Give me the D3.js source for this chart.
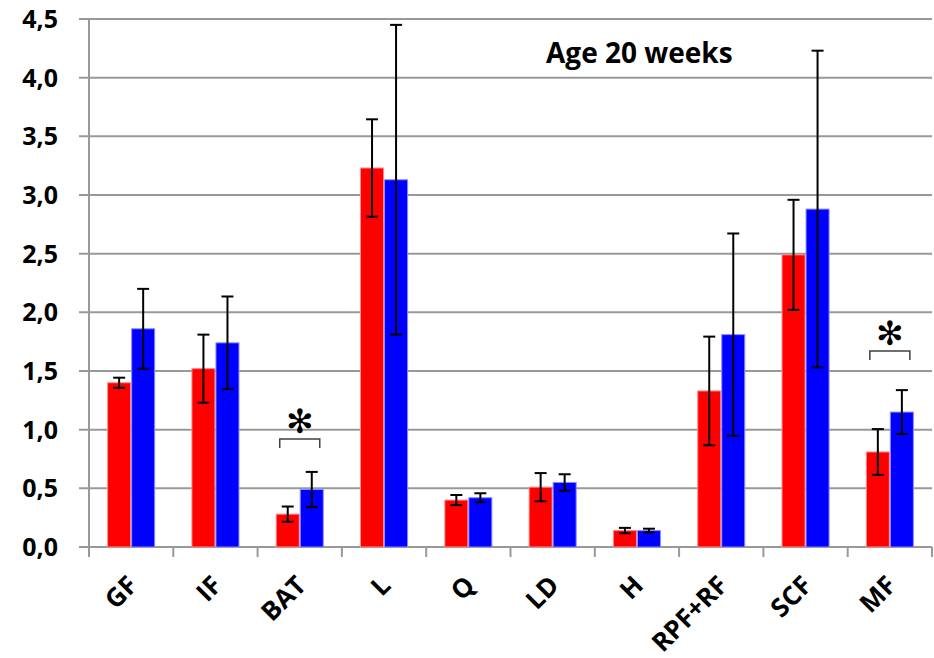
<!DOCTYPE html>
<html>
<head>
<meta charset="utf-8">
<script src="https://cdn.jsdelivr.net/npm/d3@7"></script>
<style>
  html, body { margin: 0; padding: 0; background: #fff; }
  svg { display: block; }
  text { font-family: "Open Sans", Lato, sans-serif; font-weight: 700; fill: #000; }
</style>
</head>
<body>
<svg id="chart" width="934" height="658"></svg>
<script>
// Fat depot / organ weights at age 20 weeks, two groups (red, blue), mean ± error
const categories = ["GF", "IF", "BAT", "L", "Q", "LD", "H", "RPF+RF", "SCF", "MF"];
const redValues  = [1.40, 1.52, 0.28, 3.23, 0.40, 0.51, 0.14, 1.33, 2.49, 0.81];
const redErrors  = [0.043, 0.29, 0.065, 0.415, 0.043, 0.12, 0.023, 0.463, 0.469, 0.195];
const blueValues = [1.86, 1.74, 0.49, 3.13, 0.42, 0.55, 0.14, 1.81, 2.88, 1.15];
const blueErrors = [0.34, 0.395, 0.15, 1.32, 0.038, 0.07, 0.016, 0.862, 1.35, 0.187];
const yTicks = [0, 0.5, 1.0, 1.5, 2.0, 2.5, 3.0, 3.5, 4.0, 4.5];
// significant differences: category and the level (in y units) of its bracket
const significant = ["BAT", "MF"];
const bracketLevels = [0.92, 1.67];
const title = "Age 20 weeks";

const seriesKeys = ["red", "blue"];
const seriesColor = { red: "#ff0000", blue: "#0000ff" };
const seriesEdge = { red: "#ff8c8c", blue: "#8c8cff" };

const rows = categories.map((c, i) => ({
  cat: c,
  red: { v: redValues[i], e: redErrors[i] },
  blue: { v: blueValues[i], e: blueErrors[i] }
}));

const svg = d3.select("#chart");
const plotLeft = 89, plotRight = 932, plotTop = 19, plotBottom = 547;

const y = d3.scaleLinear().domain([0, 4.5]).range([plotBottom, plotTop]);
const x = d3.scaleBand().domain(categories).range([plotLeft, plotRight])
  .paddingInner(0.43).paddingOuter(0.215);
const xs = d3.scaleBand().domain(seriesKeys).range([0, x.bandwidth()]);
const step = x.step();

// horizontal gridlines, extended left as tick marks
svg.append("g").selectAll("line").data(yTicks).join("line")
  .attr("x1", plotLeft - 10).attr("x2", plotRight)
  .attr("y1", d => y(d)).attr("y2", d => y(d))
  .attr("stroke", "#999").attr("stroke-width", 2);

// y tick labels
const fmt = d => d3.format(".1f")(d).replace(".", ",");
svg.append("g").selectAll("text").data(yTicks).join("text")
  .attr("x", 58).attr("y", d => y(d))
  .attr("dy", "0.36em")
  .attr("text-anchor", "end")
  .attr("font-size", 25)
  .text(fmt);

// vertical axis line
svg.append("line")
  .attr("x1", plotLeft).attr("x2", plotLeft).attr("y1", plotTop).attr("y2", plotBottom + 10)
  .attr("stroke", "#999").attr("stroke-width", 2);

// category separator ticks below the baseline
const tickPos = d3.range(categories.length + 1).map(i => plotLeft + i * step);
svg.append("g").selectAll("line").data(tickPos).join("line")
  .attr("x1", d => d).attr("x2", d => d)
  .attr("y1", plotBottom).attr("y2", plotBottom + 10)
  .attr("stroke", "#999").attr("stroke-width", 2);

// bars
const groups = svg.append("g").selectAll("g").data(rows).join("g")
  .attr("transform", d => `translate(${x(d.cat)},0)`);

groups.selectAll("rect").data(d => seriesKeys.map(k => ({ k, ...d[k] }))).join("rect")
  .attr("x", d => xs(d.k) + 0.5)
  .attr("width", xs.bandwidth() - 1)
  .attr("y", d => y(d.v))
  .attr("height", d => y(0) - y(d.v))
  .attr("fill", d => seriesColor[d.k])
  .attr("stroke", d => seriesEdge[d.k])
  .attr("stroke-width", 1);

// error bars
const capW = 12;
const err = groups.selectAll("g.err").data(d => seriesKeys.map(k => ({ k, ...d[k] }))).join("g")
  .attr("class", "err")
  .attr("transform", d => `translate(${xs(d.k) + xs.bandwidth() / 2},0)`);
err.append("line")
  .attr("x1", 0).attr("x2", 0)
  .attr("y1", d => y(d.v + d.e)).attr("y2", d => y(d.v - d.e))
  .attr("stroke", "#000").attr("stroke-width", 2);
err.append("line")
  .attr("x1", -capW / 2).attr("x2", capW / 2)
  .attr("y1", d => y(d.v + d.e)).attr("y2", d => y(d.v + d.e))
  .attr("stroke", "#000").attr("stroke-width", 2);
err.append("line")
  .attr("x1", -capW / 2).attr("x2", capW / 2)
  .attr("y1", d => y(d.v - d.e)).attr("y2", d => y(d.v - d.e))
  .attr("stroke", "#000").attr("stroke-width", 2);

// significance brackets with asterisk
significant.forEach((cat, i) => {
  const by = y(bracketLevels[i]);
  const x0 = x(cat) + xs("red") + xs.bandwidth() / 2 - 8;
  const x1 = x(cat) + xs("blue") + xs.bandwidth() / 2 + 8;
  svg.append("path")
    .attr("d", `M${x0},${by + 9}V${by}H${x1}V${by + 9}`)
    .attr("fill", "none").attr("stroke", "#404040").attr("stroke-width", 1.5);
  svg.append("text")
    .attr("x", (x0 + x1) / 2).attr("y", by - 18)
    .attr("dy", "0.35em")
    .attr("text-anchor", "middle")
    .style("font-family", "DejaVu Sans")
    .style("font-weight", "normal")
    .attr("font-size", 33)
    .text("✻");
});

// rotated category labels
svg.append("g").selectAll("text").data(categories).join("text")
  .attr("transform", d => `translate(${x(d) + x.bandwidth() / 2 + 8},587) rotate(-45)`)
  .attr("text-anchor", "end")
  .attr("font-size", 26)
  .text(d => d);

// title
svg.append("text")
  .attr("x", 546).attr("y", 63)
  .attr("font-size", 28)
  .text(title);
</script>
</body>
</html>
